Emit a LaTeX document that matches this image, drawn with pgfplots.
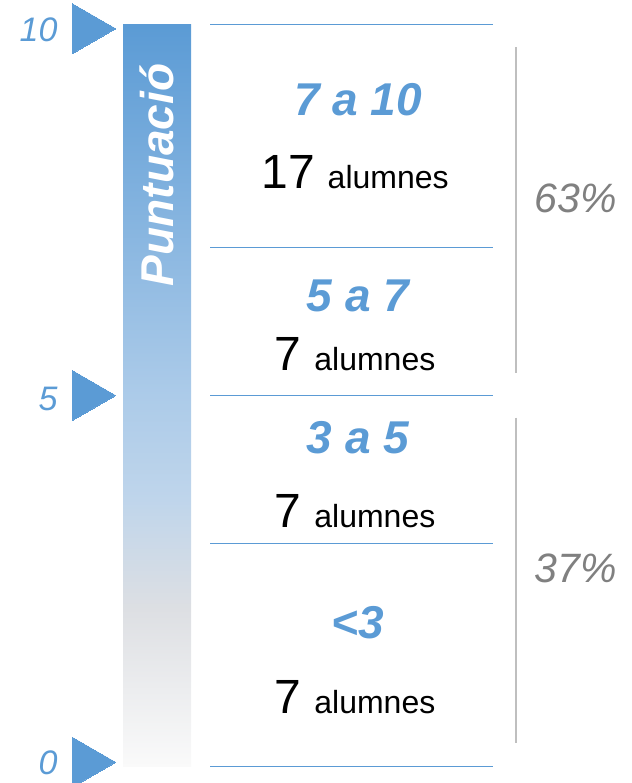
\documentclass[border=0pt]{standalone}
\usepackage{pgfplots}
\pgfplotsset{compat=1.18}
\usepackage{fontspec}
\setmainfont{Liberation Sans}
\definecolor{cblue}{HTML}{5B9BD5}
\definecolor{cgreyt}{HTML}{808080}
\definecolor{cgreyl}{HTML}{BFBFBF}
\pgfdeclareverticalshading{barshade}{100bp}{%
  color(0bp)=(white!98!black);
  color(25bp)=(white!98!black);
  color(35.6bp)=(rgb,255:red,221;green,223;blue,227);
  color(43bp)=(rgb,255:red,191;green,213;blue,235);
  color(50bp)=(rgb,255:red,172;green,203;blue,233);
  color(75bp)=(cblue);
  color(100bp)=(cblue)}
\newcommand{\fs}[1]{\fontsize{#1}{#1}\selectfont}
\newcommand{\alum}[1]{{\fs{48}#1}\hspace{13pt}{\fs{32}alumnes}}
\begin{document}
\begin{tikzpicture}
\begin{axis}[
  scale only axis, width=631pt, height=783pt,
  xmin=0, xmax=631, ymin=-0.2294, ymax=10.3374,
  hide axis, clip=true]
% gradient bar (scale 0..10)
\addplot[ybar, bar width=68, draw=none, shading=barshade] coordinates {(157,10)};
% boundary lines
\addplot[cblue, line width=1pt] coordinates {(210,10) (493,10)};
\addplot[cblue, line width=1pt] coordinates {(210,7) (493,7)};
\addplot[cblue, line width=1pt] coordinates {(210,5) (493,5)};
\addplot[cblue, line width=1pt] coordinates {(210,3) (493,3)};
\addplot[cblue, line width=1pt] coordinates {(210,0) (493,0)};
% brackets
\addplot[cgreyl, line width=1.2pt] coordinates {(516,9.70) (516,5.30)};
\addplot[cgreyl, line width=1.2pt] coordinates {(516,4.70) (516,0.31)};
% triangles
\addplot[cblue, only marks, mark=triangle*, mark size=28.7pt, mark options={rotate=-90, fill=cblue, draw=cblue, line width=0pt}] coordinates {(87,9.95) (87,5) (87,0.05)};
% texts
\node[anchor=base east, text=cblue, font=\fs{34}\itshape] at (axis cs:61,9.78) {10};
\node[anchor=base east, text=cblue, font=\fs{34}\itshape] at (axis cs:61,4.80) {5};
\node[anchor=base east, text=cblue, font=\fs{34}\itshape] at (axis cs:61,-0.12) {0};
\node[rotate=90, text=white, font=\fs{46}\bfseries\itshape, anchor=center] at (axis cs:157,7.976) {Puntuació};
\node[anchor=base, text=cblue, font=\fs{46}\bfseries\itshape] at (axis cs:358,8.785) {7 a 10};
\node[anchor=base, text=black] at (axis cs:355,7.787) {\alum{17}};
\node[anchor=base, text=cblue, font=\fs{46}\bfseries\itshape] at (axis cs:358,6.140) {5 a 7};
\node[anchor=base, text=black] at (axis cs:355,5.344) {\alum{7}};
\node[anchor=base, text=cblue, font=\fs{46}\bfseries\itshape] at (axis cs:358,4.211) {3 a 5};
\node[anchor=base, text=black] at (axis cs:355,3.212) {\alum{7}};
\node[anchor=base, text=cblue, font=\fs{46}\bfseries\itshape] at (axis cs:358,1.727) {<3};
\node[anchor=base, text=black] at (axis cs:355,0.715) {\alum{7}};
\node[anchor=base, text=cgreyt, font=\fs{41}\itshape] at (axis cs:576,7.463) {63\%};
\node[anchor=base, text=cgreyt, font=\fs{41}\itshape] at (axis cs:576,2.470) {37\%};
\end{axis}
\pgfresetboundingbox
\path (current axis.south west) rectangle (current axis.north east);
\end{tikzpicture}
\end{document}
